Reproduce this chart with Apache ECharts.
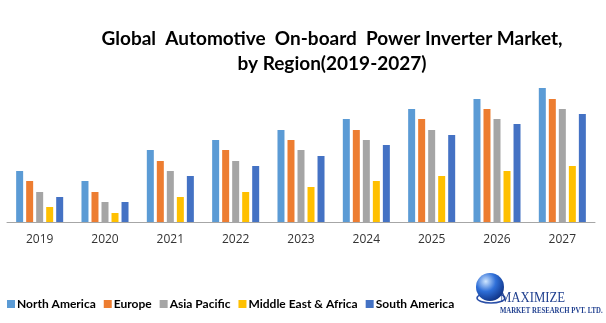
<!DOCTYPE html>
<html><head><meta charset="utf-8">
<script src="https://cdn.jsdelivr.net/npm/echarts@6/dist/echarts.min.js"></script>
<style>html,body{margin:0;padding:0;background:#fff}#c{width:606px;height:323px}</style>
</head><body><div id="c"></div>
<script>
const years = ['2019','2020','2021','2022','2023','2024','2025','2026','2027'];
const northAmerica = [51, 41, 72, 82, 92, 103, 113, 123, 134];
const europe       = [41, 30, 61, 72, 82, 92, 103, 113, 123];
const asiaPacific  = [30, 20, 51, 61, 72, 82, 92, 103, 113];
const mea          = [15, 9, 25, 30, 35, 41, 46, 51, 56];
const southAmerica = [25, 20, 46, 56, 66, 77, 87, 98, 108];
const seriesNames = ['North America','Europe','Asia Pacific','Middle East & Africa','South America'];
const colors = ['#5B9BD5','#ED7D31','#A5A5A5','#FFC000','#4472C4'];
const dataSets = [northAmerica, europe, asiaPacific, mea, southAmerica];

const chart = echarts.init(document.getElementById('c'));
chart.setOption({
  animation: false,
  title: {
    text: 'Global  Automotive  On-board  Power Inverter Market,\nby Region(2019-2027)',
    left: 327, top: 21, textAlign: 'center',
    textStyle: {fontFamily: 'Lato', fontWeight: 'bold', fontSize: 19, color: '#000', lineHeight: 25}
  },
  legend: {
    left: 2, top: 293, itemWidth: 8, itemHeight: 8, itemGap: 8,
    icon: 'rect',
    textStyle: {fontFamily: 'Lato', fontWeight: 'bold', fontSize: 12, color: '#000', padding: [0,0,0,-3]},
    data: seriesNames
  },
  grid: {left: 7, right: 11, top: 88, bottom: 101},
  xAxis: {
    type: 'category', data: years,
    axisLine: {lineStyle: {color: '#a6a6a6', width: 1}},
    axisTick: {show: false},
    axisLabel: {fontFamily: 'Open Sans', fontSize: 12, color: '#333', margin: 12}
  },
  yAxis: {type: 'value', min: 0, max: 134, show: false, splitLine: {show: false}},
  series: dataSets.map((d, i) => ({
    name: seriesNames[i], type: 'bar', data: d,
    barWidth: 7, barGap: '43%', barCategoryGap: '28%',
    itemStyle: {color: colors[i]}
  })),
  graphic: [
    {type: 'ellipse', shape: {cx: 491, cy: 298, rx: 14, ry: 5},
     style: {fill: 'none', stroke: '#2a4fa8', lineWidth: 1.5}},
    {type: 'circle', shape: {cx: 490, cy: 287, r: 14},
     style: {fill: new echarts.graphic.RadialGradient(0.35, 0.3, 0.8, [
       {offset: 0, color: '#cfe6ff'}, {offset: 0.45, color: '#2f6fd8'}, {offset: 1, color: '#0a2a7a'}])}},
    {type: 'text', x: 500, y: 291, scaleX: 0.85,
     style: {text: 'MAXIMIZE', font: '15px "Liberation Serif"', fill: '#1f3f8f'}},
    {type: 'text', x: 500, y: 307, scaleX: 0.9,
     style: {text: 'MARKET RESEARCH PVT. LTD.', font: 'bold 7.5px "Liberation Serif"', fill: '#1f3f8f'}}
  ]
});
</script></body></html>
